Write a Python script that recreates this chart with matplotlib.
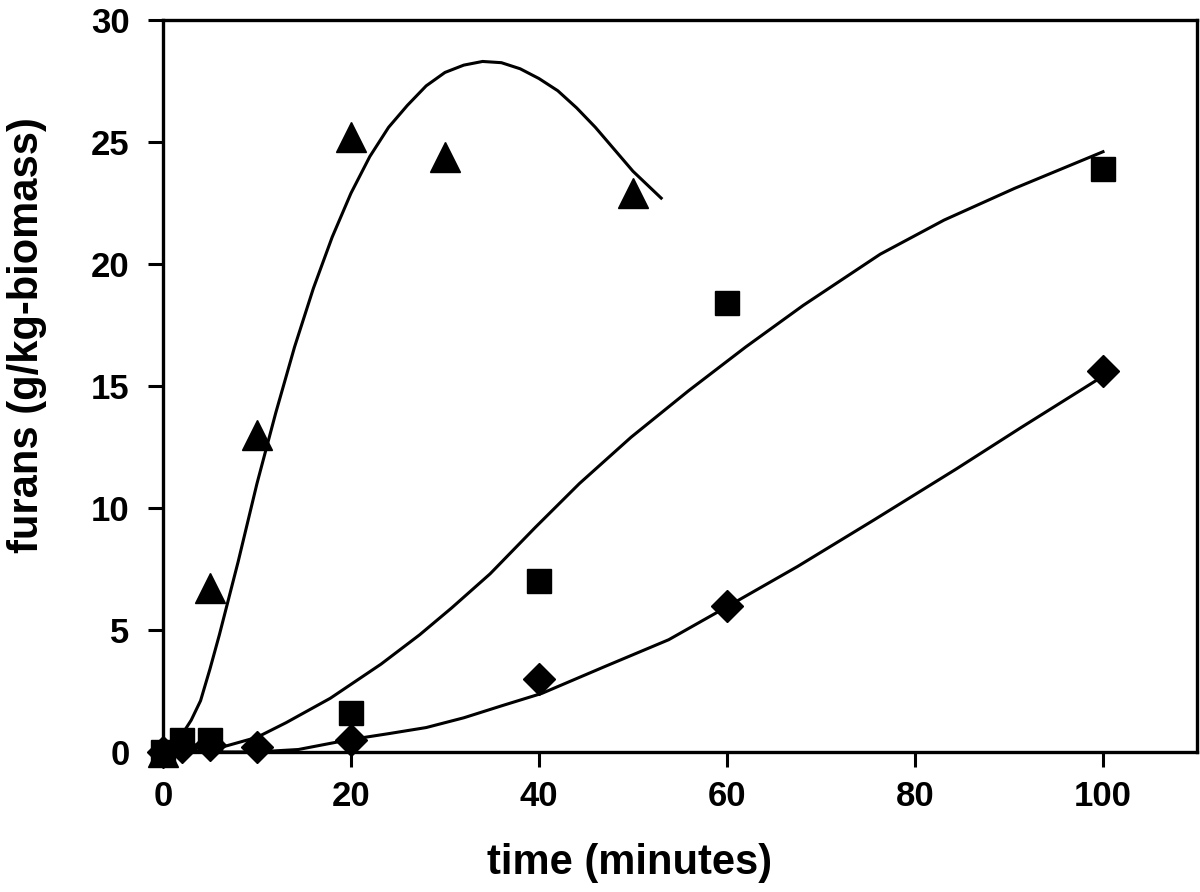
import matplotlib
matplotlib.use("Agg")
import matplotlib.pyplot as plt

plt.rcParams['font.family'] = ['Liberation Sans', 'DejaVu Sans']
plt.rcParams['font.weight'] = 'bold'

# measured points
t_tri = [0, 5, 10, 20, 30, 50]
y_tri = [0, 6.7, 13.0, 25.2, 24.4, 22.9]

t_sq = [0, 2, 5, 20, 40, 60, 100]
y_sq = [0, 0.5, 0.5, 1.6, 7.0, 18.4, 23.9]

t_dia = [0, 2, 5, 10, 20, 40, 60, 100]
y_dia = [0, 0.2, 0.3, 0.2, 0.5, 3.0, 6.0, 15.6]

# model curves
ct_tri = [1.0, 2.0, 3.0, 4.0, 5.0, 6.0, 7.0, 8.0, 9.0, 10.0, 12.0, 14.0, 16.0,
          18.0, 20.0, 22.0, 24.0, 26.0, 28.0, 30.0, 32.0, 34.0, 36.0, 38.0,
          40.0, 42.0, 44.0, 46.0, 48.0, 50.0, 53.0]
cy_tri = [0, 0.7, 1.3, 2.1, 3.4, 4.8, 6.3, 7.8, 9.4, 11.0, 13.9, 16.6, 19.0,
          21.1, 22.9, 24.4, 25.6, 26.5, 27.3, 27.85, 28.15, 28.3, 28.25, 28.0,
          27.6, 27.1, 26.4, 25.6, 24.7, 23.8, 22.7]

ct_sq = [1.5, 4.0, 6.3, 10.0, 13.1, 17.8, 23.2, 27.3, 30.7, 34.8, 39.6, 44.3,
         49.8, 55.9, 62.0, 68.1, 76.3, 83.1, 90.6, 100.0]
cy_sq = [0, 0.05, 0.2, 0.6, 1.2, 2.2, 3.6, 4.8, 5.9, 7.3, 9.2, 11.0,
         12.9, 14.8, 16.6, 18.3, 20.4, 21.8, 23.1, 24.6]

ct_dia = [0, 9.9, 14.4, 19.8, 24.0, 28.0, 32.0, 36.1, 40.3, 47.0, 53.8, 60.0,
          67.5, 75.6, 84.4, 91.3, 100.0]
cy_dia = [0, 0, 0.1, 0.5, 0.75, 1.0, 1.4, 1.9, 2.4, 3.5, 4.6, 5.95,
          7.6, 9.5, 11.6, 13.3, 15.4]

fig = plt.figure(figsize=(12, 8.92), dpi=100)
ax = fig.add_axes([0.1358, 0.157, 0.8617, 0.8206])

ax.plot(ct_tri, cy_tri, color="k", lw=2.2)
ax.plot(ct_sq, cy_sq, color="k", lw=2.2)
ax.plot(ct_dia, cy_dia, color="k", lw=2.2)

ax.plot(t_tri, y_tri, "^", color="k", ms=21, clip_on=False, zorder=5)
ax.plot(t_sq, y_sq, "s", color="k", ms=17, clip_on=False, zorder=5)
ax.plot(t_dia, y_dia, "D", color="k", ms=16, clip_on=False, zorder=5)

ax.set_xlim(0, 110)
ax.set_ylim(0, 30)
ax.set_xticks([0, 20, 40, 60, 80, 100])
ax.set_yticks([0, 5, 10, 15, 20, 25, 30])

for s in ax.spines.values():
    s.set_linewidth(2.4)
ax.tick_params(direction="out", length=11, width=2.2, labelsize=25)
ax.tick_params(axis="x", pad=9)
ax.tick_params(axis="y", pad=13)

ax.set_xlabel("time (minutes)", fontsize=30, fontweight="bold")
ax.set_ylabel("furans (g/kg-biomass)", fontsize=30, fontweight="bold")
ax.xaxis.set_label_coords(0.4516, -0.124)
ax.yaxis.set_label_coords(-0.112, 0.57)

fig.savefig("out.png", dpi=100)
